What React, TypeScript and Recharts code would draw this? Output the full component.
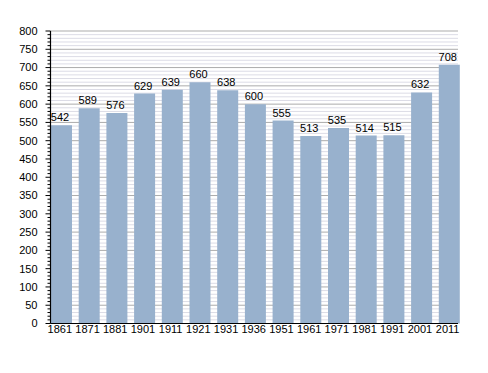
import React from 'react';
import {
  BarChart,
  Bar,
  XAxis,
  YAxis,
  CartesianGrid,
  LabelList,
} from 'recharts';

// census years and population
const years = ['1861', '1871', '1881', '1901', '1911', '1921', '1931', '1936', '1951', '1961', '1971', '1981', '1991', '2001', '2011'];
const population = [542, 589, 576, 629, 639, 660, 638, 600, 555, 513, 535, 514, 515, 632, 708];
const majorTicks = [0, 50, 100, 150, 200, 250, 300, 350, 400, 450, 500, 550, 600, 650, 700, 750, 800];
const minorSteps = [0, 10, 20, 30, 40];

const allTicks = majorTicks
  .flatMap((t) => minorSteps.map((s) => t + s))
  .filter((t) => t <= 800);

const data = years.map((year, i) => ({ year, value: population[i] }));

const FONT = '"Liberation Sans", Arial, sans-serif';
const BAR = '#98b1cd';

const YTick = ({ x, y, payload }: any) => {
  const major = payload.value % 50 === 0;
  return (
    <g>
      <line x1={x} x2={x - (major ? 5 : 3)} y1={y} y2={y} stroke="#000" strokeWidth={1} />
      {major && (
        <text x={x - 13} y={y} dy="0.35em" textAnchor="end" fontSize={11} fontFamily={FONT} fill="#000">
          {payload.value}
        </text>
      )}
    </g>
  );
};

const XTick = ({ x, y, payload }: any) => (
  <text x={x - 1.5} y={y} dy="0.71em" textAnchor="middle" fontSize={11} fontFamily={FONT} fill="#000">
    {payload.value}
  </text>
);

const ValueLabel = ({ x, y, width, value }: any) => (
  <text x={x + width / 2 - 1.5} y={y - 4} textAnchor="middle" fontSize={11} fontFamily={FONT} fill="#000">
    {value}
  </text>
);

// every 5th horizontal line (multiples of 50) is darker
const GridLine = (props: any) => {
  const major = allTicks[props.index] % 50 === 0;
  return (
    <line
      x1={props.x1}
      x2={props.x2}
      y1={props.y1}
      y2={props.y2}
      stroke={major ? '#ababab' : '#dcdce6'}
      strokeWidth={1}
    />
  );
};

export default function App() {
  return (
    <div style={{ position: 'absolute', left: 0, top: 0, background: '#fff' }}>
      <BarChart
        width={488}
        height={373}
        data={data}
        margin={{ top: 31, right: 30, bottom: 19.5, left: 0 }}
        barCategoryGap={3.5}
      >
        <CartesianGrid vertical={false} horizontal={GridLine} />
        <XAxis
          dataKey="year"
          tickLine={false}
          tickSize={0}
          tickMargin={2}
          height={30}
          padding={{ left: -3, right: -5 }}
          axisLine={{ stroke: '#000', strokeWidth: 1.2 }}
          tick={<XTick />}
          interval={0}
        />
        <YAxis
          width={50.5}
          domain={[0, 800]}
          ticks={allTicks}
          interval={0}
          tickLine={false}
          tickSize={0}
          tickMargin={0}
          axisLine={{ stroke: '#000', strokeWidth: 1.2 }}
          tick={<YTick />}
        />
        <Bar dataKey="value" fill={BAR} isAnimationActive={false}>
          <LabelList dataKey="value" content={<ValueLabel />} />
        </Bar>
      </BarChart>
    </div>
  );
}
